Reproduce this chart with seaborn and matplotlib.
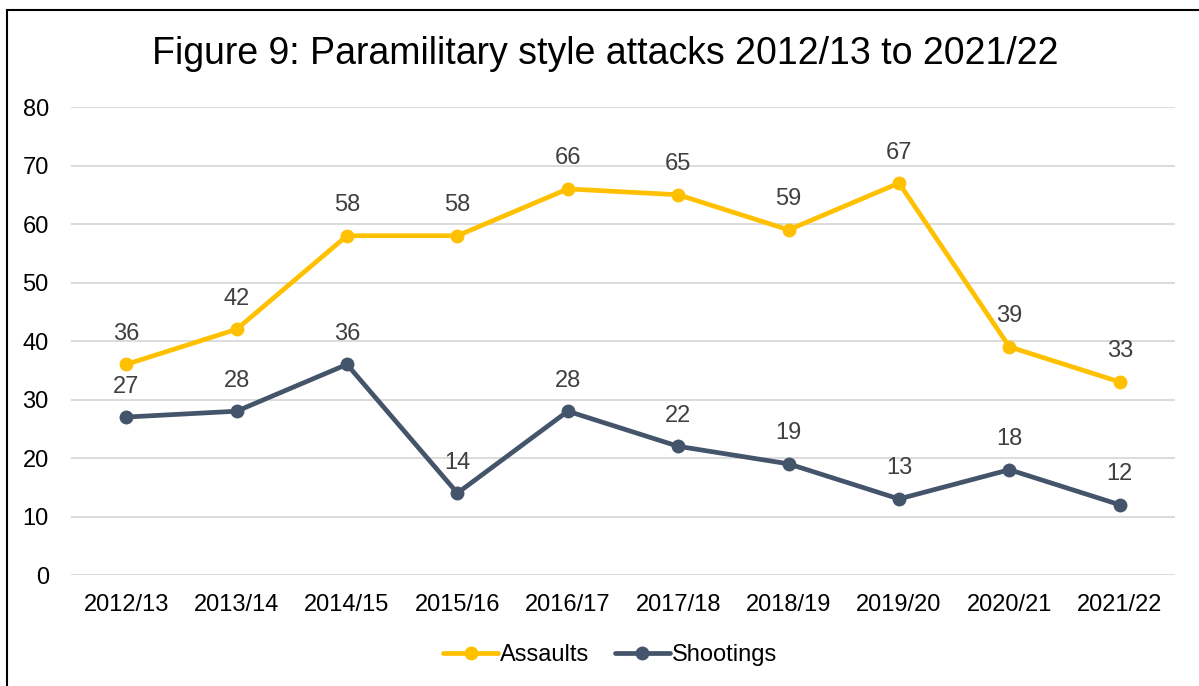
import pandas as pd
import seaborn as sns
import matplotlib.pyplot as plt
from matplotlib.patches import Rectangle

years = ["2012/13", "2013/14", "2014/15", "2015/16", "2016/17",
         "2017/18", "2018/19", "2019/20", "2020/21", "2021/22"]
assaults = [36, 42, 58, 58, 66, 65, 59, 67, 39, 33]
shootings = [27, 28, 36, 14, 28, 22, 19, 13, 18, 12]
series = ["Assaults", "Shootings"]
colors = ["#FFC000", "#44546A"]

df = pd.DataFrame({
    "year": years * 2,
    "value": assaults + shootings,
    "type": [series[0]] * len(years) + [series[1]] * len(years),
})
df["x"] = list(range(len(years))) * 2

sns.set_style("white")
plt.rcParams["font.family"] = ["Liberation Sans", "DejaVu Sans"]
plt.rcParams["text.color"] = "black"
plt.rcParams["xtick.color"] = "black"
plt.rcParams["ytick.color"] = "black"

fig = plt.figure(figsize=(11.99, 6.86), dpi=100)
ax = fig.add_axes([0.0592, 0.1618, 0.9208, 0.6822])

sns.lineplot(data=df, x="x", y="value", hue="type", palette=colors,
             marker="o", markersize=10, markeredgewidth=0, linewidth=3.4,
             ax=ax, legend=False)

# data labels
for vals in [assaults, shootings]:
    for i, v in enumerate(vals):
        ax.annotate(str(v), (i, v), xytext=(0, 22), textcoords="offset points",
                    ha="center", va="center", fontsize=17, color="#404040")

ax.set_xlim(-0.5, len(years) - 0.5)
ax.set_ylim(0, 80)
ax.set_yticks(range(0, 81, 10))
ax.set_xticks(range(len(years)))
ax.set_xticklabels(years)
ax.grid(axis="y", color="#D9D9D9", linewidth=1.3)
ax.set_axisbelow(True)
for s in ax.spines.values():
    s.set_visible(False)
ax.tick_params(axis="y", length=0, pad=16, labelsize=17, labelcolor="black")
ax.tick_params(axis="x", length=0, pad=14, labelsize=17, labelcolor="black")
ax.set_xlabel("")
ax.set_ylabel("")

fig.text(0.505, 0.921, "Figure 9: Paramilitary style attacks 2012/13 to 2021/22",
         ha="center", va="center", fontsize=27, color="black")

handles = [plt.Line2D([], [], color=c, lw=3.4, marker="o", markersize=10,
                      markeredgewidth=0) for c in colors]
fig.legend(handles, series, loc="center", bbox_to_anchor=(0.509, 0.045),
           ncol=2, frameon=False, fontsize=17, handlelength=2.3,
           handletextpad=0.1, columnspacing=1.1, labelcolor="black")

fig.patches.append(Rectangle((0.0058, -0.2), 1.2, 1.1854, transform=fig.transFigure,
                             fill=False, edgecolor="black", linewidth=1.5))

plt.savefig("out.png", dpi=100)
